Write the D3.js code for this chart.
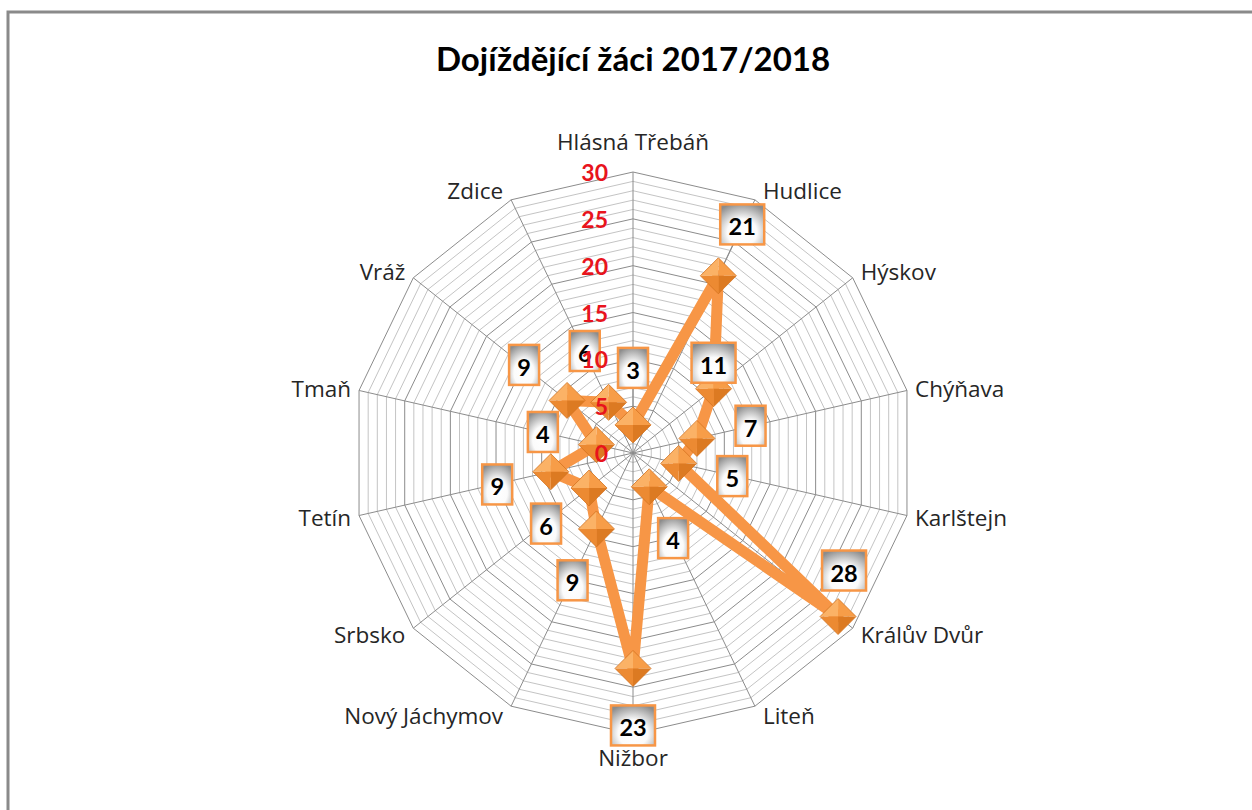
<!DOCTYPE html>
<html>
<head>
<meta charset="utf-8">
<script src="https://cdn.jsdelivr.net/npm/d3@7"></script>
<style>
  body { margin: 0; background: #fff; }
  svg { display: block; font-family: Lato, "Open Sans", sans-serif; }
</style>
</head>
<body>
<svg id="chart" width="1252" height="810"></svg>
<script>
// data
const title = "Dojíždějící žáci 2017/2018";
const categories = ["Hlásná Třebáň", "Hudlice", "Hýskov", "Chýňava", "Karlštejn", "Králův Dvůr",
  "Liteň", "Nižbor", "Nový Jáchymov", "Srbsko", "Tetín", "Tmaň", "Vráž", "Zdice"];
const values = [3, 21, 11, 7, 5, 28, 4, 23, 9, 6, 9, 4, 9, 6];
const tickValues = [0, 5, 10, 15, 20, 25, 30];
// how each data label sits relative to its point
const labelPlacement = ["out", "lead", "above", "out", "out", "aboveFar", "out", "lead",
  "out", "out", "out", "out", "out", "out"];

const width = 1252, height = 810;
const cx = 633, cy = 453, radius = 281;
const orange = "#f79646";

const svg = d3.select("#chart");
const defs = svg.append("defs");

// label box fill
const lg = defs.append("radialGradient").attr("id", "boxFill")
  .attr("cx", "50%").attr("cy", "70%").attr("r", "75%");
lg.append("stop").attr("offset", "0%").attr("stop-color", "#ffffff");
lg.append("stop").attr("offset", "45%").attr("stop-color", "#fbfbfb");
lg.append("stop").attr("offset", "100%").attr("stop-color", "#8c8c8c");

// frame
svg.append("rect")
  .attr("x", 8).attr("y", 12)
  .attr("width", width + 20).attr("height", height + 20)
  .attr("fill", "none").attr("stroke", "#8a8a8a").attr("stroke-width", 3);

svg.append("text")
  .attr("x", cx).attr("y", 71)
  .attr("text-anchor", "middle")
  .attr("font-size", 33).attr("font-weight", "bold").attr("fill", "#000")
  .text(title);

const n = categories.length;
const r = d3.scaleLinear().domain([0, 30]).range([0, radius]);
const angle = d3.scaleLinear().domain([0, n]).range([0, 2 * Math.PI]);

const g = svg.append("g").attr("transform", `translate(${cx},${cy})`);

const ringLine = d3.lineRadial()
  .angle((d, i) => angle(i))
  .radius(d => r(d))
  .curve(d3.curveLinearClosed);

// minor rings every 1, major every 5
const minor = d3.range(1, 30).filter(v => v % 5 !== 0);
g.selectAll(".minor").data(minor).join("path")
  .attr("class", "minor")
  .attr("d", v => ringLine(categories.map(() => v)))
  .attr("fill", "none").attr("stroke", "#c4c4c4").attr("stroke-width", 1);

g.selectAll(".major").data(tickValues.filter(v => v > 0)).join("path")
  .attr("class", "major")
  .attr("d", v => ringLine(categories.map(() => v)))
  .attr("fill", "none").attr("stroke", "#8c8c8c").attr("stroke-width", 1);

// spokes
g.selectAll(".spoke").data(categories).join("line")
  .attr("class", "spoke")
  .attr("x1", 0).attr("y1", 0)
  .attr("x2", (d, i) => r(30) * Math.sin(angle(i)))
  .attr("y2", (d, i) => -r(30) * Math.cos(angle(i)))
  .attr("stroke", "#8c8c8c").attr("stroke-width", 1);

// category labels
g.selectAll(".cat").data(categories).join("text")
  .attr("class", "cat")
  .attr("x", (d, i) => {
    const s = Math.sin(angle(i));
    const x = r(30) * s;
    return Math.abs(s) < 0.01 ? x : x + Math.sign(s) * 8;
  })
  .attr("y", (d, i) => {
    const c = Math.cos(angle(i));
    const y = -r(30) * c;
    if (c > 0.99) return y - 31;
    if (c < -0.99) return y + 23;
    return y - c * 10;
  })
  .attr("text-anchor", (d, i) => {
    const s = Math.sin(angle(i));
    return Math.abs(s) < 0.01 ? "middle" : (s > 0 ? "start" : "end");
  })
  .attr("dominant-baseline", "central")
  .attr("font-family", "'Open Sans', sans-serif")
  .attr("font-size", 22.5).attr("fill", "#262626")
  .text(d => d);

// data line
const pts = values.map((v, i) => [r(v) * Math.sin(angle(i)), -r(v) * Math.cos(angle(i))]);
g.append("path")
  .attr("d", d3.line().curve(d3.curveLinearClosed)(pts))
  .attr("fill", "none").attr("stroke", orange)
  .attr("stroke-width", 11).attr("stroke-linejoin", "round");

// label positions
const lab = values.map((v, i) => {
  const a = angle(i);
  const p = pts[i];
  const mode = labelPlacement[i];
  if (mode === "above") return [p[0], p[1] - 26];
  if (mode === "aboveFar") return [p[0] + 6, p[1] - 46];
  return [p[0] + 55 * Math.sin(a), p[1] - 57 * Math.cos(a)];
});

// leader lines
g.selectAll(".leader").data(values).join("line")
  .attr("class", "leader")
  .filter((d, i) => labelPlacement[i] === "lead")
  .attr("x1", (d, i) => pts[i][0]).attr("y1", (d, i) => pts[i][1])
  .attr("x2", (d, i) => lab[i][0]).attr("y2", (d, i) => lab[i][1])
  .attr("stroke", "#8c8c8c").attr("stroke-width", 1);

// diamond markers, four faces for the bevel
const h = 18;
const faces = [
  { pts: [[0, 0], [-h, 0], [0, -h]], fill: "#fbb266" },
  { pts: [[0, 0], [0, -h], [h, 0]], fill: "#f79d48" },
  { pts: [[0, 0], [h, 0], [0, h]], fill: "#dc7a22" },
  { pts: [[0, 0], [0, h], [-h, 0]], fill: "#ec8a32" }
];
const mk = g.selectAll(".marker").data(values).join("g")
  .attr("class", "marker")
  .attr("transform", (d, i) => `translate(${pts[i][0]},${pts[i][1]})`);
faces.forEach(f => {
  mk.append("path")
    .attr("d", "M" + f.pts.map(p => p.join(",")).join("L") + "Z")
    .attr("fill", f.fill);
});
mk.append("path")
  .attr("d", `M0,${-h}L${h},0L0,${h}L${-h},0Z`)
  .attr("fill", "none").attr("stroke", "#d37220").attr("stroke-width", 0.8);

// data labels
const lb = g.selectAll(".dlabel").data(values).join("g")
  .attr("class", "dlabel")
  .attr("transform", (d, i) => `translate(${lab[i][0]},${lab[i][1]})`);
lb.append("rect")
  .attr("x", d => d >= 10 ? -22 : -15)
  .attr("width", d => d >= 10 ? 44 : 30)
  .attr("y", -20).attr("height", 40)
  .attr("fill", "url(#boxFill)")
  .attr("stroke", orange).attr("stroke-width", 2.5);
lb.append("text")
  .attr("text-anchor", "middle").attr("dominant-baseline", "central")
  .attr("y", 2)
  .attr("font-size", 23.5).attr("font-weight", "bold").attr("fill", "#000")
  .text(d => d);

// radial axis ticks (drawn last, they sit over everything)
g.selectAll(".tick").data(tickValues).join("text")
  .attr("class", "tick")
  .attr("x", -25)
  .attr("y", d => -r(d))
  .attr("text-anchor", "end").attr("dominant-baseline", "central")
  .attr("font-size", 23).attr("font-weight", "bold").attr("fill", "#e8141c")
  .text(d => d);
</script>
</body>
</html>
